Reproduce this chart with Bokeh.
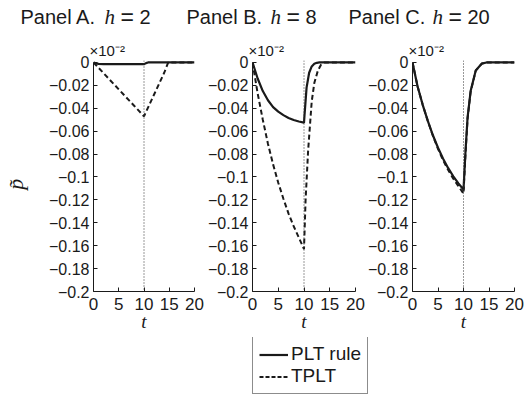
import math
from bokeh.plotting import figure
from bokeh.models import Range1d, FixedTicker, Span, Label, Legend, LegendItem, ColumnDataSource, Title
from bokeh.layouts import row, column
from bokeh.embed import file_html
from bokeh.resources import INLINE

# ---------------- data ----------------
panel_names = ["Panel A.", "Panel B.", "Panel C."]
h_values = ["2", "8", "20"]
shock_end = 10

a_plt_t = [0, 0.5, 1, 2, 4, 6, 8, 10, 10.4, 10.8, 12, 20]
a_plt = [0, -0.0008, -0.0012, -0.0015, -0.0015, -0.0015, -0.0015, -0.0015, -0.0006, 0, 0, 0]
a_tplt_t = [0, 1, 2, 3, 4, 5, 6, 7, 8, 9, 10, 11, 12, 13, 14, 14.8, 20]
a_tplt = [0, -0.0047, -0.0094, -0.0141, -0.0188, -0.0235, -0.0282, -0.0329, -0.0376, -0.0423, -0.047,
          -0.0375, -0.028, -0.0185, -0.009, 0, 0]

b_plt_t = [0, 1, 2, 3, 4, 5, 6, 7, 8, 9, 10, 10.1, 10.5, 11, 11.5, 12, 12.5, 13, 20]
b_plt = [0, -0.014, -0.025, -0.033, -0.039, -0.043, -0.046, -0.0485, -0.0503, -0.0516, -0.0525,
         -0.046, -0.022, -0.009, -0.0035, -0.0012, -0.0003, 0, 0]
b_tplt_t = [0, 1, 2, 3, 4, 5, 6, 7, 8, 9, 10, 10.3, 10.8, 11.5, 12, 12.7, 13.3, 14, 20]
b_tplt = [0, -0.027, -0.050, -0.071, -0.089, -0.105, -0.119, -0.132, -0.143, -0.153, -0.163,
          -0.121, -0.077, -0.034, -0.018, -0.007, -0.002, 0, 0]

c_t = [0, 1, 2, 3, 4, 5, 6, 7, 8, 9, 10, 10.4, 10.8, 11.4, 12.4, 13.6, 14.5, 20]
c_plt = [0, -0.021, -0.037, -0.051, -0.0636, -0.0745, -0.084, -0.0923, -0.0994, -0.1056, -0.111,
         -0.077, -0.048, -0.025, -0.007, -0.001, 0, 0]
c_tplt = [0, -0.021, -0.037, -0.051, -0.064, -0.0755, -0.0855, -0.094, -0.1015, -0.108, -0.1145,
          -0.079, -0.049, -0.0255, -0.0072, -0.001, 0, 0]

x_ticks = [0, 5, 10, 15, 20]
y_ticks = [0, -0.02, -0.04, -0.06, -0.08, -0.1, -0.12, -0.14, -0.16, -0.18, -0.2]
y_tick_labels = ["0", "\u22120.02", "\u22120.04", "\u22120.06", "\u22120.08", "\u22120.1",
                 "\u22120.12", "\u22120.14", "\u22120.16", "\u22120.18", "\u22120.2"]
series_labels = ["PLT rule", "TPLT"]
multiplier_text = "\u00d710\u207b\u00b2"

panels = [
    (a_plt_t, a_plt, a_tplt_t, a_tplt),
    (b_plt_t, b_plt, b_tplt_t, b_tplt),
    (c_t, c_plt, c_t, c_tplt),
]

# ---------------- styling / layout ----------------
INK = "#1a1a1a"
SANS = "Liberation Sans"
SERIF = "Liberation Serif"
TOTAL_W = 529
STRIP_H = 30
TOP, FRAME_H, BOTTOM = 30, 231, 46
FIG_H = TOP + FRAME_H + BOTTOM
LEG_H = 395 - STRIP_H - FIG_H
borders = [(91, 10), (48, 10), (46, 15)]
FRAME_W = 103
title_left = [20, 186, 348]   # page x of each panel heading

# heading strip (frame covers the whole strip, so texts are not clipped)
strip = figure(width=TOTAL_W, height=STRIP_H, x_range=Range1d(0, 1), y_range=Range1d(0, 1),
               output_backend="svg", toolbar_location=None, min_border=0,
               x_axis_type=None, y_axis_type=None)
strip.outline_line_color = None
strip.grid.visible = False
ty = STRIP_H - 16
for i in range(3):
    tl = title_left[i]
    for dx, txt, font, style, size in [(0, panel_names[i], SANS, "normal", "20px"),
                                       (84, "h", SERIF, "italic", "21px"),
                                       (100, "=", SANS, "normal", "23px"),
                                       (119, h_values[i], SANS, "normal", "20px")]:
        strip.add_layout(Label(x=tl + dx, y=ty, x_units="screen", y_units="screen", text=txt,
                               text_font=font, text_font_style=style, text_font_size=size,
                               text_color=INK, text_baseline="middle", text_align="left"))

figs = []
for i, (pt, pv, tt, tv) in enumerate(panels):
    bl, br = borders[i]
    p = figure(width=bl + FRAME_W + br, height=FIG_H,
               x_range=Range1d(0, 20), y_range=Range1d(-0.2, 0.0017),
               output_backend="svg", toolbar_location=None,
               min_border_left=bl, min_border_right=br,
               min_border_top=TOP, min_border_bottom=BOTTOM)
    p.outline_line_color = None
    p.grid.visible = False

    p.add_layout(Title(text=multiplier_text, align="left", offset=-4, standoff=4,
                       text_font=SANS, text_font_size="15px", text_font_style="normal",
                       text_color=INK), "above")

    for ax in (p.xaxis[0], p.yaxis[0]):
        ax.axis_line_color = INK
        ax.axis_line_width = 1
        ax.major_tick_line_color = INK
        ax.major_tick_in = 4
        ax.major_tick_out = 0
        ax.minor_tick_line_color = None
        ax.major_label_text_font = SANS
        ax.major_label_text_font_size = "16px"
        ax.major_label_text_color = INK
    xa, ya = p.xaxis[0], p.yaxis[0]
    xa.ticker = FixedTicker(ticks=x_ticks)
    xa.bounds = (0, 20)
    xa.major_label_text_font_size = "17px"
    xa.major_label_standoff = 6
    xa.axis_label = "t"
    xa.axis_label_text_font = SERIF
    xa.axis_label_text_font_style = "italic"
    xa.axis_label_text_font_size = "19px"
    xa.axis_label_text_color = INK
    xa.axis_label_standoff = -2
    ya.ticker = FixedTicker(ticks=y_ticks)
    ya.bounds = (-0.2, 0)
    ya.major_label_standoff = 4
    ya.major_label_overrides = {v: s for v, s in zip(y_ticks, y_tick_labels)}
    if i == 0:
        ya.axis_label = "p\u0303\u00a0\u00a0\u00a0"
        ya.axis_label_text_font = SERIF
        ya.axis_label_text_font_style = "italic"
        ya.axis_label_text_font_size = "22px"
        ya.axis_label_text_color = INK
        ya.axis_label_standoff = 18

    p.add_layout(Span(location=shock_end, dimension="height", line_color="#333333",
                      line_width=1, line_dash="1 2"))

    p.line(tt, tv, line_color=INK, line_width=2.0, line_dash="5 3")
    p.line(pt, pv, line_color=INK, line_width=2.2)
    figs.append(p)

# legend strip
leg = figure(width=TOTAL_W, height=LEG_H, x_range=Range1d(0, 1), y_range=Range1d(0, 1),
             output_backend="svg", toolbar_location=None, min_border=0,
             x_axis_type=None, y_axis_type=None)
leg.outline_line_color = None
leg.grid.visible = False
src = ColumnDataSource(dict(x=[5, 6], y=[5, 5]))   # outside the view: only the legend shows
r1 = leg.line("x", "y", source=src, line_color=INK, line_width=2.2)
r2 = leg.line("x", "y", source=src, line_color=INK, line_width=2.0, line_dash="4 2")
legend = Legend(items=[LegendItem(label=series_labels[0], renderers=[r1]),
                       LegendItem(label=series_labels[1], renderers=[r2])],
                location=(252, 1), margin=0, padding=6, spacing=-4,
                glyph_width=29, glyph_height=17, label_height=17, label_standoff=3,
                label_text_font=SANS, label_text_font_size="19px", label_text_color=INK,
                border_line_color=INK, border_line_width=1, background_fill_color="white",
                background_fill_alpha=1)
leg.add_layout(legend)

layout = column(strip, row(*figs), leg)
open("out.html", "w").write(file_html(layout, INLINE))
